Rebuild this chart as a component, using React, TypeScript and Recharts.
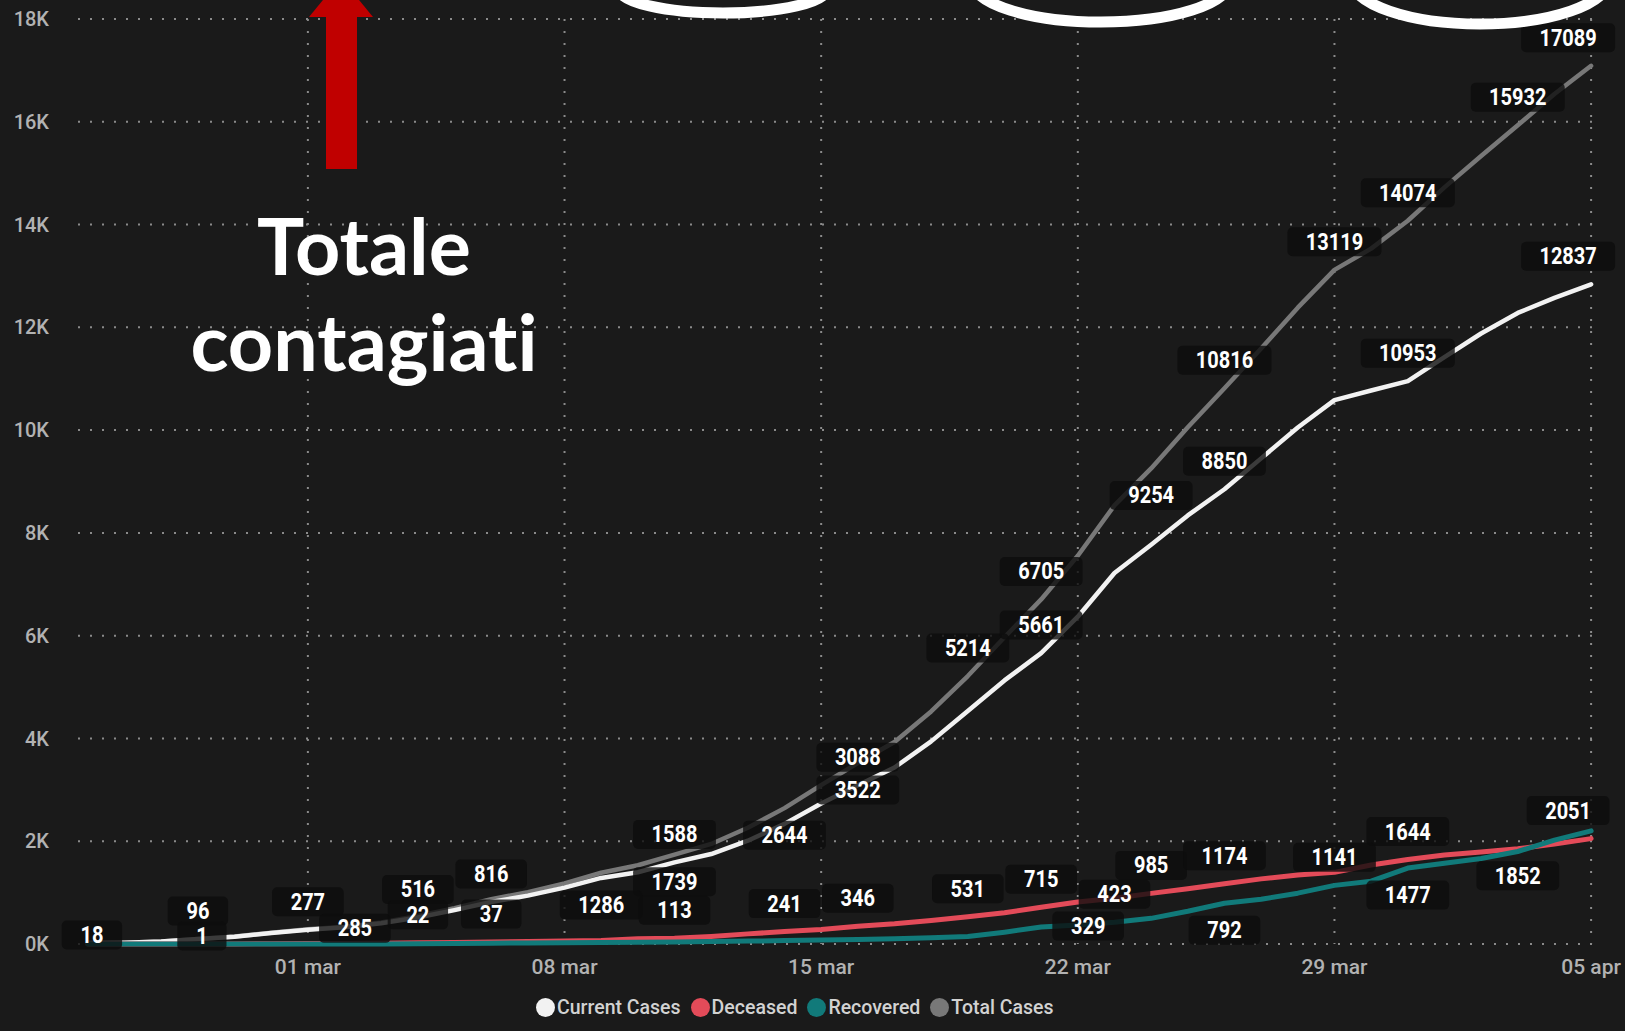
import React from 'react';
import { CartesianGrid, Line, LineChart, XAxis, YAxis } from 'recharts';

const dates = [
  '24 feb', '25 feb', '26 feb', '27 feb', '28 feb', '29 feb',
  '01 mar', '02 mar', '03 mar', '04 mar', '05 mar', '06 mar', '07 mar', '08 mar', '09 mar', '10 mar',
  '11 mar', '12 mar', '13 mar', '14 mar', '15 mar', '16 mar', '17 mar', '18 mar', '19 mar', '20 mar',
  '21 mar', '22 mar', '23 mar', '24 mar', '25 mar', '26 mar', '27 mar', '28 mar', '29 mar', '30 mar',
  '31 mar', '01 apr', '02 apr', '03 apr', '04 apr', '05 apr',
];

const currentCases = [
  18, 26, 47, 96, 143, 213, 277, 325, 405, 516, 660, 816, 942, 1098, 1286, 1396, 1588, 1751, 2010, 2337,
  2733, 3088, 3434, 3943, 4536, 5129, 5661, 6369, 7220, 7770, 8340, 8850, 9450, 10050, 10584, 10770,
  10953, 11421, 11880, 12280, 12573, 12837,
];
const deceased = [
  0, 0, 0, 1, 2, 4, 8, 10, 13, 22, 27, 37, 48, 58, 70, 104, 113, 148, 197, 241, 284, 346, 393, 458, 531,
  609, 715, 816, 892, 985, 1077, 1174, 1267, 1344, 1394, 1538, 1644, 1732, 1788, 1852, 1947, 2051,
];
const recovered = [
  0, 0, 0, 0, 0, 0, 0, 0, 2, 6, 11, 17, 20, 24, 30, 33, 38, 48, 56, 66, 76, 88, 104, 124, 147, 230, 329,
  370, 423, 499, 637, 792, 871, 989, 1141, 1223, 1477, 1571, 1665, 1800, 2020, 2201,
];
const totalCases = [
  18, 26, 47, 97, 145, 217, 285, 335, 420, 544, 698, 870, 1010, 1180, 1386, 1533, 1739, 1947, 2263, 2644,
  3093, 3522, 3931, 4525, 5214, 5968, 6705, 7555, 8535, 9254, 10054, 10816, 11588, 12383, 13119, 13531,
  14074, 14724, 15333, 15932, 16540, 17089,
];

const xTickLabels = ['01 mar', '08 mar', '15 mar', '22 mar', '29 mar', '05 apr'];
const yTicks = [0, 2000, 4000, 6000, 8000, 10000, 12000, 14000, 16000, 18000];

// points that show a data label (day index)
const labelDays: Record<string, number[]> = {
  total: [0, 6, 16, 19, 21, 24, 26, 29, 31, 34, 36, 39, 41],
  current: [3, 6, 9, 11, 14, 16, 21, 26, 31, 36, 41],
  deceased: [3, 9, 11, 16, 19, 21, 24, 26, 29, 31, 36, 39, 41],
  recovered: [26, 28, 31, 34, 36],
};

// label placement tweaks
const placedBelow: Record<string, number[]> = {
  total: [16, 19, 21, 29],
  current: [14],
  deceased: [39],
  recovered: [31, 36],
};
const placedRight: Record<string, number[]> = { total: [6], recovered: [26] };
const placedOn: Record<string, number[]> = { total: [0], deceased: [3] };

const data = dates.map((date, i) => ({
  day: i,
  date,
  current: currentCases[i],
  deceased: deceased[i],
  recovered: recovered[i],
  total: totalCases[i],
}));
const xTicks = xTickLabels.map((l) => dates.indexOf(l));
const xDomain: [number, number] = [-0.27, dates.length - 1 + 0.27];

const FONT = "Roboto, 'Noto Sans', sans-serif";
const BG = '#1a1a1a';

const series = [
  { key: 'current', name: 'Current Cases', color: '#f2f2f2' },
  { key: 'deceased', name: 'Deceased', color: '#e34b59' },
  { key: 'recovered', name: 'Recovered', color: '#117a7a' },
  { key: 'total', name: 'Total Cases', color: '#787878' },
];

const offsetFor = (key: string, i: number): [number, number] => {
  if ((placedOn[key] || []).includes(i)) return [4, -8];
  if ((placedRight[key] || []).includes(i)) return [47, -1];
  const dy = (placedBelow[key] || []).includes(i) ? 27 : -28;
  const dx = i === dates.length - 1 ? -23 : 0;
  return [dx, dy];
};

const makeLabel = (key: string) => (props: any) => {
  const { cx, cy, index, payload } = props;
  if (!labelDays[key].includes(index) || cx == null || cy == null) {
    return <g key={`${key}-n-${index}`} />;
  }
  const [dx, dy] = offsetFor(key, index);
  const text = String(payload[key]);
  const w = text.length * 11.2 + 38;
  const h = 29;
  const x = cx + dx;
  const y = cy + dy;
  return (
    <g key={`${key}-l-${index}`}>
      <rect x={x - w / 2} y={y - h / 2} width={w} height={h} rx={5} fill="rgba(12,12,12,0.8)" />
      <text
        transform={`translate(${x},${y}) scale(0.87,1)`}
        textAnchor="middle"
        dominantBaseline="central"
        fill="#ffffff"
        fontSize={23}
        fontWeight={700}
        fontFamily={FONT}
      >
        {text}
      </text>
    </g>
  );
};

// vertical grid only at the weekly ticks
const weeklyGrid = (props: any) => {
  const { xAxis, offset } = props;
  if (xAxis && typeof xAxis.scale === 'function') return xTicks.map((t) => xAxis.scale(t));
  const left = offset?.left ?? 78;
  const width = offset?.width ?? 1523;
  return xTicks.map((t) => left + ((t - xDomain[0]) / (xDomain[1] - xDomain[0])) * width);
};

const titleStyle = { fontVariantLigatures: 'none' } as React.CSSProperties;

const Overlay = () => (
  <svg width={1625} height={1031} style={{ position: 'absolute', left: 0, top: 0, pointerEvents: 'none' }}>
    <ellipse cx={723} cy={-11} rx={104} ry={24} fill="none" stroke="#ffffff" strokeWidth={11} />
    <ellipse cx={1101} cy={-18} rx={128} ry={40} fill="none" stroke="#ffffff" strokeWidth={11} />
    <ellipse cx={1480} cy={-20} rx={128} ry={44} fill="none" stroke="#ffffff" strokeWidth={11} />
    <rect x={326} y={10} width={31} height={159} fill="#c00000" />
    <polygon points="309,17 373,17 341,-22" fill="#c00000" />
    <text x={364} y={275} textAnchor="middle" fill="#ffffff" fontSize={79} fontWeight={700}
      fontFamily="Lato, 'Open Sans', sans-serif" style={titleStyle}>
      Totale
    </text>
    <text x={364} y={371} textAnchor="middle" fill="#ffffff" fontSize={79} fontWeight={700}
      fontFamily="Lato, 'Open Sans', sans-serif" style={titleStyle}>
      contagiati
    </text>
  </svg>
);

const LegendRow = () => (
  <div
    style={{
      position: 'absolute',
      left: 536,
      top: 996,
      display: 'flex',
      alignItems: 'center',
      fontFamily: FONT,
      fontSize: 19.5,
      fontWeight: 500,
      color: '#d2d2d2',
    }}
  >
    {series.map((s) => (
      <div key={s.key} style={{ display: 'flex', alignItems: 'center', marginRight: 10 }}>
        <span
          style={{ width: 19, height: 19, borderRadius: 10, background: s.color, display: 'inline-block', marginRight: 2 }}
        />
        <span>{s.name}</span>
      </div>
    ))}
  </div>
);

export default function App() {
  const order = ['total', 'current', 'deceased', 'recovered'];
  return (
    <div style={{ position: 'absolute', left: 0, top: 0, width: 1625, height: 1031, background: BG, overflow: 'hidden' }}>
      <LineChart width={1625} height={1031} data={data} margin={{ top: 19, right: 24, left: 0, bottom: 57 }}>
        <CartesianGrid
          stroke="#8a8a8a"
          strokeWidth={2}
          strokeDasharray="2 10"
          verticalCoordinatesGenerator={weeklyGrid}
        />
        <XAxis
          dataKey="day"
          type="number"
          domain={xDomain}
          ticks={xTicks}
          interval={0}
          tickFormatter={(v: number) => dates[v]}
          height={30}
          tickSize={0}
          tickMargin={15}
          axisLine={false}
          tickLine={false}
          tick={{ fill: '#b2b2b2', fontSize: 21, fontFamily: FONT, fontWeight: 500 }}
        />
        <YAxis
          domain={[0, 18000]}
          ticks={yTicks}
          interval={0}
          tickFormatter={(v: number) => `${v / 1000}K`}
          width={78}
          tickSize={0}
          tickMargin={29}
          axisLine={false}
          tickLine={false}
          tick={{ fill: '#b2b2b2', fontSize: 20, fontFamily: FONT, fontWeight: 500 }}
        />
        {order.map((k) => {
          const s = series.find((x) => x.key === k)!;
          return (
            <Line
              key={k}
              type="linear"
              dataKey={k}
              stroke={s.color}
              strokeWidth={k === 'deceased' || k === 'recovered' ? 5 : 4.5}
              strokeLinejoin="round"
              strokeLinecap="round"
              dot={false}
              activeDot={false}
              isAnimationActive={false}
            />
          );
        })}
        {order.map((k) => (
          <Line
            key={`${k}-labels`}
            type="linear"
            dataKey={k}
            stroke="none"
            dot={makeLabel(k)}
            activeDot={false}
            legendType="none"
            isAnimationActive={false}
          />
        ))}
      </LineChart>
      <Overlay />
      <LegendRow />
    </div>
  );
}
